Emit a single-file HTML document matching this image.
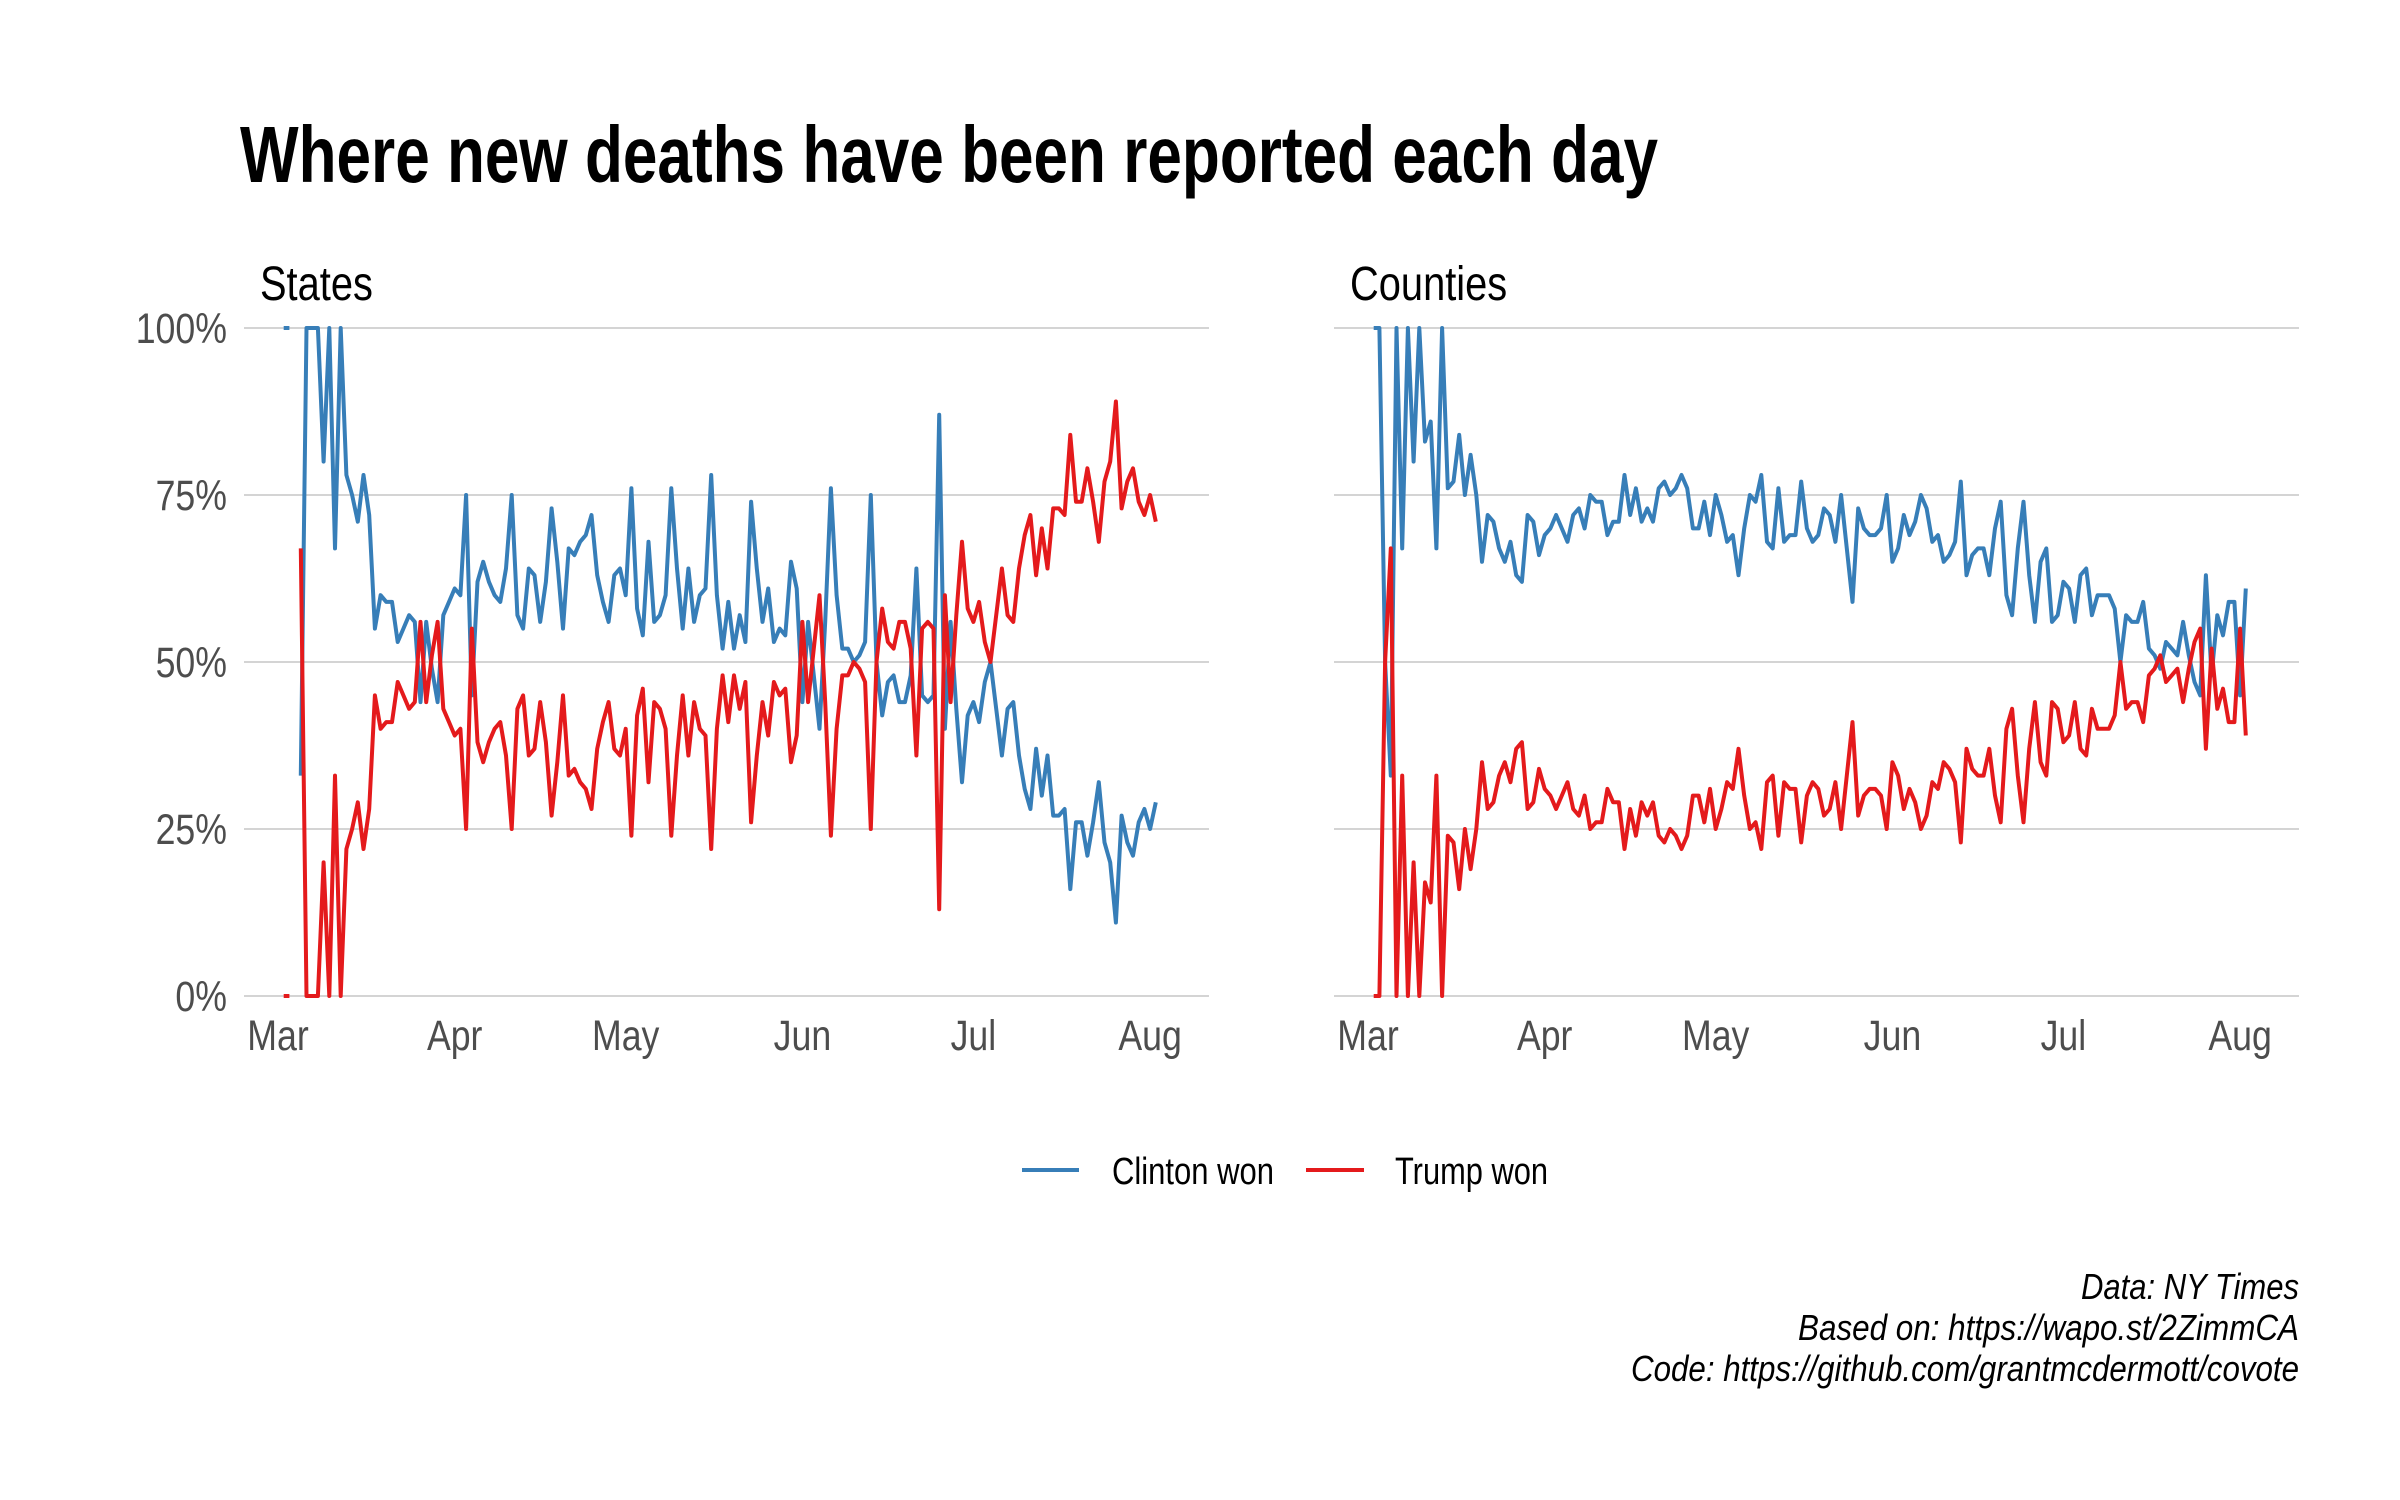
<!DOCTYPE html>
<html><head><meta charset="utf-8"><style>
html,body{margin:0;padding:0;background:#fff}
svg{display:block}
text{font-family:"Liberation Sans Narrow","Liberation Sans",sans-serif}
</style></head><body>
<svg id="chart" width="2400" height="1500" viewBox="0 0 2400 1500" xmlns="http://www.w3.org/2000/svg">
<rect width="2400" height="1500" fill="#fff"/>
<text x="240" y="182" font-size="80" font-weight="bold" fill="#000" textLength="1418" lengthAdjust="spacingAndGlyphs">Where new deaths have been reported each day</text>
<g id="panels"></g>
<g>
<line x1="1022" y1="1170" x2="1079" y2="1170" stroke="#377EB8" stroke-width="4"/>
<text x="1112" y="1184" font-size="38" fill="#000" textLength="162" lengthAdjust="spacingAndGlyphs">Clinton won</text>
<line x1="1306" y1="1170" x2="1364" y2="1170" stroke="#E41A1C" stroke-width="4"/>
<text x="1395" y="1184" font-size="38" fill="#000" textLength="153" lengthAdjust="spacingAndGlyphs">Trump won</text>
</g>
<g font-style="italic" font-size="36" fill="#000" text-anchor="end">
<text x="2299" y="1299" textLength="218" lengthAdjust="spacingAndGlyphs">Data: NY Times</text>
<text x="2299" y="1340" textLength="501" lengthAdjust="spacingAndGlyphs">Based on: https://wapo.st/2ZimmCA</text>
<text x="2299" y="1381" textLength="668" lengthAdjust="spacingAndGlyphs">Code: https://github.com/grantmcdermott/covote</text>
</g>
</svg>
<script>
const yTicks = [0, 25, 50, 75, 100];
const yTickLabels = ["0%", "25%", "50%", "75%", "100%"];
const monthLabels = ["Mar", "Apr", "May", "Jun", "Jul", "Aug"];
const monthDayOffsets = [0, 31, 61, 92, 122, 153];
const panelTitles = ["States", "Counties"];
const startDayOffset = 1; // first observation: Mar 2
const statesClinton = [100,100,null,33,100,100,100,80,100,67,100,78,75,71,78,72,55,60,59,59,53,55,57,56,44,56,49,44,57,59,61,60,75,45,62,65,62,60,59,64,75,57,55,64,63,56,62,73,65,55,67,66,68,69,72,63,59,56,63,64,60,76,58,54,68,56,57,60,76,64,55,64,56,60,61,78,60,52,59,52,57,53,74,64,56,61,53,55,54,65,61,44,56,48,40,56,76,60,52,52,50,51,53,75,50,42,47,48,44,44,48,64,45,44,45,87,40,56,43,32,42,44,41,47,50,43,36,43,44,36,31,28,37,30,36,27,27,28,16,26,26,21,26,32,23,20,11,27,23,21,26,28,25,29];
const statesTrump = [0,0,null,67,0,0,0,20,0,33,0,22,25,29,22,28,45,40,41,41,47,45,43,44,56,44,51,56,43,41,39,40,25,55,38,35,38,40,41,36,25,43,45,36,37,44,38,27,35,45,33,34,32,31,28,37,41,44,37,36,40,24,42,46,32,44,43,40,24,36,45,36,44,40,39,22,40,48,41,48,43,47,26,36,44,39,47,45,46,35,39,56,44,52,60,44,24,40,48,48,50,49,47,25,50,58,53,52,56,56,52,36,55,56,55,13,60,44,57,68,58,56,59,53,50,57,64,57,56,64,69,72,63,70,64,73,73,72,84,74,74,79,74,68,77,80,89,73,77,79,74,72,75,71];
const countiesClinton = [100,100,50,33,100,67,100,80,100,83,86,67,100,76,77,84,75,81,75,65,72,71,67,65,68,63,62,72,71,66,69,70,72,70,68,72,73,70,75,74,74,69,71,71,78,72,76,71,73,71,76,77,75,76,78,76,70,70,74,69,75,72,68,69,63,70,75,74,78,68,67,76,68,69,69,77,70,68,69,73,72,68,75,67,59,73,70,69,69,70,75,65,67,72,69,71,75,73,68,69,65,66,68,77,63,66,67,67,63,70,74,60,57,67,74,63,56,65,67,56,57,62,61,56,63,64,57,60,60,60,58,50,57,56,56,59,52,51,49,53,52,51,56,51,47,45,63,48,57,54,59,59,45,61];
const countiesTrump = [0,0,50,67,0,33,0,20,0,17,14,33,0,24,23,16,25,19,25,35,28,29,33,35,32,37,38,28,29,34,31,30,28,30,32,28,27,30,25,26,26,31,29,29,22,28,24,29,27,29,24,23,25,24,22,24,30,30,26,31,25,28,32,31,37,30,25,26,22,32,33,24,32,31,31,23,30,32,31,27,28,32,25,33,41,27,30,31,31,30,25,35,33,28,31,29,25,27,32,31,35,34,32,23,37,34,33,33,37,30,26,40,43,33,26,37,44,35,33,44,43,38,39,44,37,36,43,40,40,40,42,50,43,44,44,41,48,49,51,47,48,49,44,49,53,55,37,52,43,46,41,41,55,39];

const NS = "http://www.w3.org/2000/svg";
const panelsG = document.getElementById("panels");
const panelLefts = [244, 1334];
const panelWidth = 965;
const marchX0 = 278;
const pxPerDay = 5.70;
const yTop = 328, yBottom = 996;
function yScale(v){ return yBottom - (v/100)*(yBottom - yTop); }
function xScale(panel, dayOffset){ return marchX0 + (panelLefts[panel]-panelLefts[0]) + dayOffset*pxPerDay; }
function mk(tag, attrs){ const e=document.createElementNS(NS, tag); for(const k in attrs) e.setAttribute(k, attrs[k]); return e; }
function pathFor(panel, vals){
  let d="", pen=false;
  vals.forEach((v,i)=>{
    if(v===null){ pen=false; return; }
    const x=xScale(panel, startDayOffset+i), y=yScale(v);
    d += (pen?"L":"M") + x.toFixed(1) + "," + y.toFixed(1);
    pen=true;
  });
  return d;
}
const seriesSets = [[statesClinton, statesTrump],[countiesClinton, countiesTrump]];
const seriesColors = ["#377EB8", "#E41A1C"];
const seriesNames = ["clinton", "trump"];
[0,1].forEach(p=>{
  const g = mk("g", {});
  
  
  panelsG.appendChild(g);
  const t = mk("text", {x: panelLefts[p]+16, y: 300, "font-size": 48, fill: "#000", "class": "narrow"});
  t.textContent = panelTitles[p];
  
  
  g.appendChild(t);
  yTicks.forEach((v,i)=>{
    const ln = mk("line", {x1: panelLefts[p], x2: panelLefts[p]+panelWidth, y1: yScale(v), y2: yScale(v), stroke: "#d4d4d4", "stroke-width": 2});
    
    
    g.appendChild(ln);
    if(p===0){
      const lb = mk("text", {x: 227, y: yScale(v)+15, "font-size": 43, fill: "#4d4d4d", "text-anchor": "end", "class": "narrow"});
      lb.textContent = yTickLabels[i];
      
      
      g.appendChild(lb);
    }
  });
  monthLabels.forEach((m,i)=>{
    const lb = mk("text", {x: xScale(p, monthDayOffsets[i]), y: 1050, "font-size": 43, fill: "#4d4d4d", "text-anchor": "middle", "class": "narrow"});
    lb.textContent = m;
    
    
    g.appendChild(lb);
  });
  seriesSets[p].forEach((vals,s)=>{
    const path = mk("path", {d: pathFor(p, vals), fill: "none", stroke: seriesColors[s], "stroke-width": 4, "stroke-linejoin": "round"});
    
    
    g.appendChild(path);
  });
});
document.querySelectorAll("text.narrow").forEach(t=>{
  const w = t.getComputedTextLength();
  if (w > 0) {
    t.setAttribute("textLength", (w*0.83).toFixed(1));
    t.setAttribute("lengthAdjust", "spacingAndGlyphs");
  }
});
</script>
</body></html>
